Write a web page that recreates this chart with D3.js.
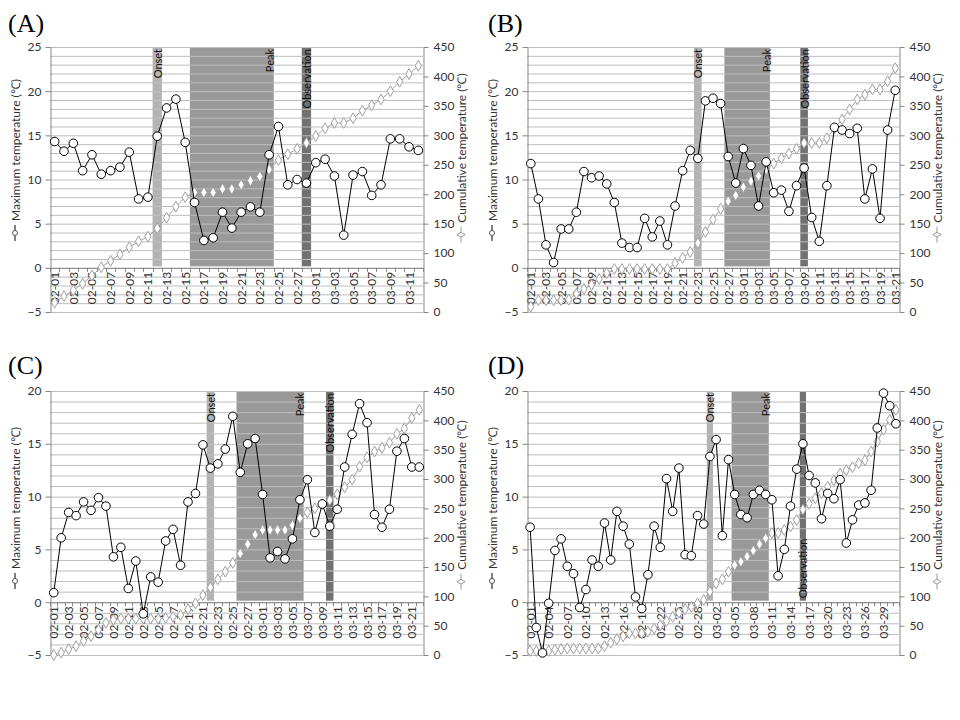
<!DOCTYPE html>
<html><head><meta charset="utf-8">
<script src="https://cdn.jsdelivr.net/npm/d3@7"></script>
<style>body{margin:0;background:#fff}</style>
</head><body>
<svg id="c" width="960" height="720" xmlns="http://www.w3.org/2000/svg"></svg>
<script>
// ---------- DATA ----------
function dayRange(y, m0, d0, m1, d1) {
  const fmt = d3.timeFormat('%m-%d');
  return d3.timeDay.range(new Date(y, m0 - 1, d0), new Date(y, m1 - 1, d1 + 1)).map(fmt);
}
const datesA = dayRange(2013, 2, 1, 3, 12);
const datesB = dayRange(2013, 2, 1, 3, 21);
const datesC = dayRange(2013, 2, 1, 3, 22);
const datesD = dayRange(2012, 2, 1, 3, 31);

const maxA = [14.3,13.2,14.1,11.0,12.8,10.6,11.0,11.4,13.1,7.8,8.0,14.9,18.1,19.1,14.2,7.4,3.1,3.4,6.3,4.5,6.3,6.9,6.3,12.8,16.0,9.4,10.0,9.6,11.9,12.3,10.4,3.7,10.5,10.9,8.2,9.4,14.6,14.6,13.7,13.3];
const cumA = [16,27,37,48,62,76,87,98,110,120,128,142,160,179,195,203,203,203,209,209,216,223,230,242,258,268,277,287,299,312,321,321,329,342,351,361,375,391,404,418];

const maxB = [11.8,7.8,2.6,0.6,4.4,4.4,6.3,10.9,10.2,10.4,9.5,7.4,2.8,2.3,2.3,5.6,3.5,5.3,2.6,7.0,11.0,13.3,12.4,18.9,19.2,18.6,12.6,9.6,13.5,11.6,7.0,12.0,8.5,8.8,6.4,9.3,11.3,5.7,3.0,9.3,15.9,15.6,15.2,15.8,7.8,11.2,5.6,15.6,20.1];
const cumB = [9,20,20,20,20,21,31,39,46,56,66,73,73,73,73,73,73,73,73,83,92,102,117,136,157,175,188,198,212,222,231,242,252,261,269,277,287,287,287,295,312,327,344,361,369,378,378,392,414];

const maxC = [0.9,6.1,8.5,8.2,9.5,8.7,9.9,9.1,4.3,5.2,1.3,3.9,-1.1,2.4,1.9,5.8,6.9,3.5,9.5,10.3,14.9,12.7,13.1,14.5,17.6,12.3,15.0,15.5,10.2,4.2,4.8,4.1,6.0,9.7,11.6,6.6,9.3,7.2,8.8,12.8,15.9,18.8,17.0,8.3,7.1,8.8,14.3,15.5,12.8,12.8];
const cumC = [0,4,10,15,24,32,43,55,60,62,62,62,62,62,62,63,65,68,78,88,102,115,129,142,157,173,189,205,213,213,213,213,221,233,243,250,257,264,274,286,299,321,337,347,353,362,377,386,404,418];

const maxD = [7.1,-2.4,-4.8,-0.1,4.9,6.0,3.4,2.7,-0.5,1.2,4.0,3.4,7.5,4.0,8.6,7.2,5.5,0.5,-0.6,2.6,7.2,5.2,11.7,8.6,12.7,4.5,4.4,8.2,7.4,13.8,15.4,6.3,13.5,10.2,8.3,8.0,10.2,10.6,10.2,9.7,2.5,5.0,9.1,12.6,15.0,12.0,11.3,7.9,10.3,9.8,11.6,5.6,7.8,9.2,9.4,10.6,16.5,19.8,18.6,16.9];
const cumD = [7,7,7,7,9,10,11,11,11,11,11,11,15,21,27,32,37,37,37,40,45,51,58,65,72,78,82,88,94,108,122,129,142,153,159,168,178,189,199,208,208,213,219,230,248,258,267,276,287,298,309,315,320,327,332,347,364,384,401,418];

const panelLabels = ['(A)', '(B)', '(C)', '(D)'];
const onsetDays = ['02-12', '02-23', '02-22', '03-01'];
const peakRanges = [['02-16','02-24'], ['02-27','03-04'], ['02-26','03-06'], ['03-05','03-10']];
const obsDays = ['02-28', '03-09', '03-10', '03-16'];
const leftDomains = [[-5,25], [-5,25], [-5,20], [-5,20]];
const rightDomain = [0, 450];
const leftTicks = [[-5,0,5,10,15,20,25], [-5,0,5,10,15,20,25], [-5,0,5,10,15,20], [-5,0,5,10,15,20]];
const rightTicks = [0,50,100,150,200,250,300,350,400,450];
const labelEvery = [2, 2, 2, 3];
const leftTitle = 'Maximum temperature (℃)';
const rightTitle = 'Cumulative temperature (℃)';
const bandTexts = ['Onset', 'Peak', 'Observation'];

// ---------- LAYOUT ----------
const layout = [
  {x0:50,  x1:423, y0:47,  y1:312, lab:[8,32],   cyL:160, cyR:158, obsBottom:false},
  {x0:527, x1:899, y0:47,  y1:312, lab:[488,32], cyL:160, cyR:158, obsBottom:false},
  {x0:50,  x1:423, y0:391, y1:655, lab:[8,374],  cyL:508, cyR:505, obsBottom:false},
  {x0:527, x1:899, y0:391, y1:655, lab:[488,374],cyL:508, cyR:505, obsBottom:true}
];
const panelsData = [
  {dates:datesA, maxT:maxA, cum:cumA},
  {dates:datesB, maxT:maxB, cum:cumB},
  {dates:datesC, maxT:maxC, cum:cumC},
  {dates:datesD, maxT:maxD, cum:cumD}
];

const svg = d3.select('#c');
const FONT = 'Lato, "Liberation Sans", sans-serif';
const GRID = '#bdbdbd', AXIS = '#868686', TXT = '#333';

panelsData.forEach((pd, k) => {
  const L = layout[k];
  const g = svg.append('g');
  const x = d3.scaleBand().domain(pd.dates).range([L.x0, L.x1]);
  const bw = x.bandwidth();
  const cx = d => x(d) + bw / 2;
  const y = d3.scaleLinear().domain(leftDomains[k]).range([L.y1, L.y0]);
  const y2 = d3.scaleLinear().domain(rightDomain).range([L.y1, L.y0]);
  const top = leftDomains[k][1];

  // panel label
  svg.append('text').attr('x', L.lab[0]).attr('y', L.lab[1]).text(panelLabels[k])
    .attr('font-family', '"Liberation Serif", "DejaVu Serif", serif').attr('font-size', 26).attr('fill', '#000');

  // bands
  const bandRect = (a, b, col) => g.append('rect')
    .attr('x', x(a)).attr('width', x(b) + bw - x(a))
    .attr('y', y(top)).attr('height', y(0) - 1.5 - y(top)).attr('fill', col);
  bandRect(onsetDays[k], onsetDays[k], '#b3b3b3');
  bandRect(peakRanges[k][0], peakRanges[k][1], '#999999');
  bandRect(obsDays[k], obsDays[k], '#717171');

  // gridlines every 1 unit
  g.append('g').selectAll('line').data(d3.range(leftDomains[k][0], top + 1))
    .join('line').attr('x1', L.x0).attr('x2', L.x1)
    .attr('y1', d => y(d) + 0.5).attr('y2', d => y(d) + 0.5)
    .attr('stroke', GRID).attr('stroke-width', 1);

  // band labels
  const bandLabel = (day, txt, bottom) => {
    const t = g.append('text').text(txt)
      .attr('font-family', FONT).attr('font-size', 11).attr('fill', '#111')
      .attr('dominant-baseline', 'central');
    if (bottom) {
      t.attr('text-anchor', 'start').attr('transform', `translate(${cx(day)},${y(0) - 4}) rotate(-90)`);
    } else {
      t.attr('text-anchor', 'end').attr('transform', `translate(${cx(day)},${y(top) + 2}) rotate(-90)`);
    }
  };
  bandLabel(onsetDays[k], bandTexts[0], false);
  bandLabel(peakRanges[k][1], bandTexts[1], false);
  bandLabel(obsDays[k], bandTexts[2], L.obsBottom);

  // x axis line at zero with ticks at boundaries
  g.append('line').attr('x1', L.x0).attr('x2', L.x1).attr('y1', y(0) + 0.5).attr('y2', y(0) + 0.5)
    .attr('stroke', AXIS);
  g.append('g').selectAll('line').data(d3.range(pd.dates.length + 1)).join('line')
    .attr('x1', i => Math.round(L.x0 + i * x.step()) + 0.5).attr('x2', i => Math.round(L.x0 + i * x.step()) + 0.5)
    .attr('y1', y(0)).attr('y2', y(0) + 4).attr('stroke', AXIS);
  // x labels
  g.append('g').selectAll('text').data(pd.dates.filter((d, i) => i % labelEvery[k] === 0)).join('text')
    .text(d => d).attr('font-family', FONT).attr('font-size', 12).attr('fill', TXT)
    .attr('text-anchor', 'end').attr('dominant-baseline', 'central')
    .attr('transform', d => `translate(${cx(d)},${y(0) + 4}) rotate(-90)`);

  // left axis
  const ax = g.append('g').attr('transform', `translate(${L.x0 + 0.5},0)`)
    .call(d3.axisLeft(y).tickValues(leftTicks[k]).tickSize(5).tickSizeOuter(0).tickPadding(4));
  ax.select('.domain').attr('stroke', AXIS);
  ax.selectAll('.tick line').attr('stroke', AXIS);
  ax.selectAll('.tick text').attr('font-family', FONT).attr('font-size', 12).attr('fill', TXT);
  // right axis
  const ax2 = g.append('g').attr('transform', `translate(${L.x1 + 0.5},0)`)
    .call(d3.axisRight(y2).tickValues(rightTicks).tickSize(5).tickSizeOuter(0).tickPadding(5));
  ax2.select('.domain').attr('stroke', AXIS);
  ax2.selectAll('.tick line').attr('stroke', AXIS);
  ax2.selectAll('.tick text').attr('font-family', FONT).attr('font-size', 12).attr('fill', TXT);

  // axis titles with legend keys
  const title = (xpos, cy, txt, kind) => {
    const tg = g.append('g').attr('transform', `translate(${xpos},${cy}) rotate(-90)`);
    const t = tg.append('text').text(txt).attr('font-family', FONT).attr('font-size', 12)
      .attr('fill', TXT).attr('dominant-baseline', 'central');
    const tl = t.node().getComputedTextLength();
    const W = tl + 20;
    const mx0 = -W / 2;
    t.attr('x', mx0 + 20);
    const col = kind === 'circle' ? '#000' : '#9a9a9a';
    tg.append('line').attr('x1', mx0).attr('x2', mx0 + 16).attr('y1', 0).attr('y2', 0).attr('stroke', col);
    if (kind === 'circle') {
      tg.append('circle').attr('cx', mx0 + 8).attr('cy', 0).attr('r', 2.5).attr('fill', '#fff').attr('stroke', '#555');
    } else {
      tg.append('path').attr('d', d3.symbol(d3.symbolDiamond, 20)()).attr('transform', `translate(${mx0 + 8},0)`)
        .attr('fill', '#fff').attr('stroke', '#9a9a9a');
    }
  };
  title(L.x0 - 35, L.cyL, leftTitle, 'circle');
  title(L.x1 + 38, L.cyR, rightTitle, 'diamond');

  // cumulative series
  const cumPts = pd.dates.map((d, i) => [cx(d), y2(pd.cum[i])]);
  g.append('path').attr('d', d3.line()(cumPts)).attr('fill', 'none').attr('stroke', '#a0a0a0').attr('stroke-width', 1);
  g.append('g').selectAll('path').data(cumPts).join('path')
    .attr('d', d3.symbol(d3.symbolDiamond, 34)())
    .attr('transform', p => `translate(${p[0]},${p[1]})`)
    .attr('fill', '#fff').attr('stroke', '#a0a0a0').attr('stroke-width', 1);

  // max temperature series
  const maxPts = pd.dates.map((d, i) => [cx(d), y(pd.maxT[i])]);
  g.append('path').attr('d', d3.line()(maxPts)).attr('fill', 'none').attr('stroke', '#000').attr('stroke-width', 1);
  g.append('g').selectAll('circle').data(maxPts).join('circle')
    .attr('cx', p => p[0]).attr('cy', p => p[1]).attr('r', 4.3)
    .attr('fill', '#fff').attr('stroke', '#000').attr('stroke-width', 1);
});
</script>
</body></html>
